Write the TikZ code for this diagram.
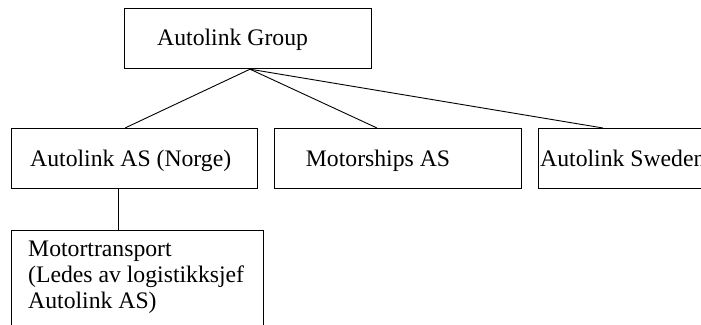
\documentclass[tikz,border=0pt]{standalone}
\usepackage{fontspec}
\setmainfont{Liberation Serif}
\usetikzlibrary{calc}
\begin{document}
\begin{tikzpicture}[x=1pt,y=-1pt,
  orgbox/.style={draw=black, line width=0.9pt, rectangle, inner sep=0pt, anchor=north west},
  orgtext/.style={anchor=base west, inner sep=0pt, font=\fontsize{23.7}{25.9}\selectfont, align=left},
  link/.style={draw=black, line width=0.9pt}]
\useasboundingbox (0,0) rectangle (701,324);
\clip (0,0) rectangle (701,324);
\fill[white] (0,0) rectangle (701,324);

% boxes
\node[orgbox, minimum width=246.4pt, minimum height=60pt] (group) at (124.3,8.3) {};
\node[orgbox, minimum width=246.3pt, minimum height=60pt] (norge) at (10.7,128) {};
\node[orgbox, minimum width=246.7pt, minimum height=60pt] (motor) at (274.3,128) {};
\node[orgbox, minimum width=190pt, minimum height=60pt] (sweden) at (538,128) {};
\node[orgbox, minimum width=252.3pt, minimum height=120pt] (mt) at (11,230) {};

% labels (a multi-line node sits on the baseline of its last line)
\node[orgtext] (grouptxt) at (157,45) {Autolink Group};
\node[orgtext] (norgetxt) at (30,166.7) {Autolink AS (Norge)};
\node[orgtext] (motortxt) at (305.7,166.7) {Motorships AS};
\node[orgtext] (swedentxt) at (540,166.7) {Autolink Sweden};
\node[orgtext] (mttxt) at (28,308.3) {Motortransport\\(Ledes av logistikksjef\\Autolink AS)};

% connector ends
\coordinate (apex) at ($(group.south west)+(125.7,0)$);
\coordinate (norgetop) at ($(norge.north west)+(114.3,0)$);
\coordinate (motortop) at ($(motor.north west)+(102.7,0)$);
\coordinate (swedentop) at ($(sweden.north west)+(65,0)$);
\coordinate (norgebot) at ($(norge.south west)+(107.3,0)$);
\coordinate (mttop) at ($(mt.north west)+(107,0)$);

% connectors
\draw[link] (apex) -- (norgetop);
\draw[link] (apex) -- (motortop);
\draw[link] (apex) -- (swedentop);
\draw[link] (norgebot) -- (mttop);
\end{tikzpicture}
\end{document}
